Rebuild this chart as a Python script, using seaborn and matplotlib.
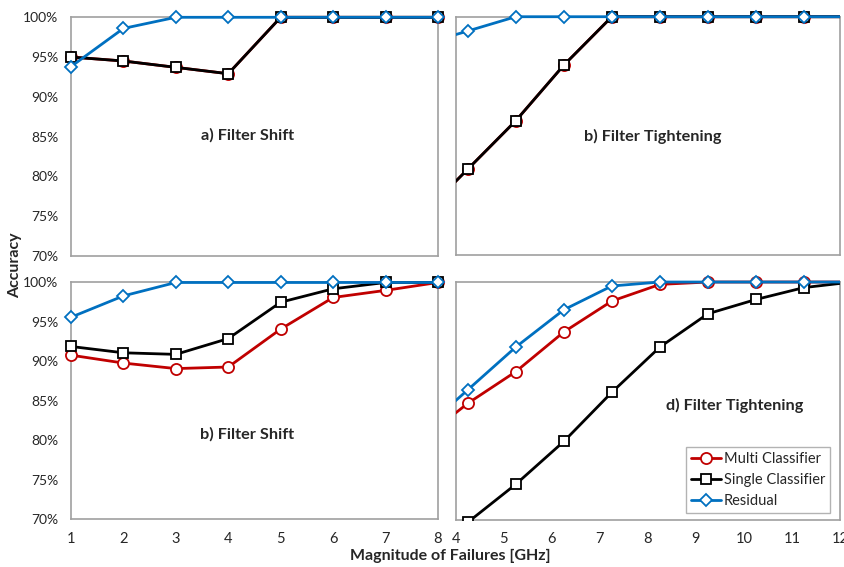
import numpy as np
import pandas as pd
import matplotlib
matplotlib.use("Agg")
import matplotlib.pyplot as plt
from matplotlib.patches import Rectangle
from matplotlib.ticker import PercentFormatter
import seaborn as sns

# data (accuracy in %)
shift_x = [1, 2, 3, 4, 5, 6, 7, 8]
tight_x = [3.25, 4.25, 5.25, 6.25, 7.25, 8.25, 9.25, 10.25, 11.25, 12.25]

a_multi = [95.0, 94.5, 93.7, 92.9, 100, 100, 100, 100]
a_single = [95.0, 94.5, 93.7, 92.9, 100, 100, 100, 100]
a_resid = [93.8, 98.6, 100, 100, 100, 100, 100, 100]

b_multi = [74.7, 80.8, 86.9, 93.9, 100, 100, 100, 100, 100, 100]
b_single = [74.7, 80.8, 86.9, 93.9, 100, 100, 100, 100, 100, 100]
b_resid = [96.4, 98.2, 100, 100, 100, 100, 100, 100, 100, 100]

c_multi = [90.8, 89.8, 89.1, 89.3, 94.1, 98.1, 99.0, 100]
c_single = [91.9, 91.1, 90.9, 92.9, 97.5, 99.2, 100, 100]
c_resid = [95.6, 98.3, 100, 100, 100, 100, 100, 100]

d_multi = [79.9, 84.7, 88.7, 93.7, 97.6, 99.7, 100, 100, 100, 100]
d_single = [65.0, 69.7, 74.5, 79.9, 86.1, 91.8, 96.0, 97.8, 99.3, 100]
d_resid = [81.0, 86.4, 91.8, 96.5, 99.5, 100, 100, 100, 100, 100]

series_names = ["Multi Classifier", "Single Classifier", "Residual"]
colors = ["#C00000", "#000000", "#0070C0"]
markers = ["o", "s", "D"]
msizes = [8, 7, 6]

sns.set_style("white")
plt.rcParams["font.family"] = ["Lato", "DejaVu Sans"]

fig = plt.figure(figsize=(8.45, 5.67), dpi=100)
rects = [
    [0.0840, 0.5490, 0.4343, 0.4205],   # a) top left
    [0.5393, 0.5503, 0.4548, 0.4202],   # b) top right
    [0.0840, 0.0838, 0.4343, 0.4180],   # c) bottom left
    [0.5393, 0.0829, 0.4548, 0.4197],   # d) bottom right
]
panels = [
    (shift_x, [a_multi, a_single, a_resid], "a) Filter Shift", (0.48, 0.506)),
    (tight_x, [b_multi, b_single, b_resid], "b) Filter Tightening", (0.513, 0.499)),
    (shift_x, [c_multi, c_single, c_resid], "b) Filter Shift", (0.48, 0.361)),
    (tight_x, [d_multi, d_single, d_resid], "d) Filter Tightening", (0.726, 0.483)),
]

axes = []
for i, (rect, (xs, ys, title, tpos)) in enumerate(zip(rects, panels)):
    ax = fig.add_axes(rect)
    axes.append(ax)
    for name, vals, c, m, ms in zip(series_names, ys, colors, markers, msizes):
        df = pd.DataFrame({"x": xs, "y": vals})
        sns.lineplot(data=df, x="x", y="y", ax=ax, color=c, marker=m,
                     markersize=ms, markerfacecolor="white",
                     markeredgecolor=c, markeredgewidth=1.3,
                     linewidth=2.0, legend=False)
    left = i in (0, 2)
    if left:
        ax.set_xlim(1, 8)
        ax.set_xticks(range(1, 9))
        for ln in ax.lines:
            ln.set_clip_on(False)
    else:
        ax.set_xlim(4, 12)
        ax.set_xticks(range(4, 13))
        for ln in ax.lines:
            ln.set_clip_path(Rectangle((0, 0), 1, 1.06, transform=ax.transAxes))
    ax.set_ylim(70, 100)
    ax.set_yticks(range(70, 101, 5))
    ax.yaxis.set_major_formatter(PercentFormatter(100, decimals=0))
    ax.set_xlabel("")
    ax.set_ylabel("")
    if not left:
        ax.set_yticklabels([])
    if i in (0, 1):
        ax.set_xticklabels([])
    ax.tick_params(axis="x", direction="in", length=4, width=1,
                   color="#A0A0A0", labelsize=10.5, pad=9)
    ax.tick_params(axis="y", direction="out", length=0, labelsize=10,
                   pad=9)
    for sp in ax.spines.values():
        sp.set_color("#A0A0A0")
        sp.set_linewidth(1.2)
        sp.set_zorder(0)
    ax.text(tpos[0], tpos[1], title, transform=ax.transAxes, ha="center",
            va="center", fontsize=11.7, fontweight="bold")

leg = axes[3].legend(handles=axes[3].lines[:3], labels=series_names,
                     loc="lower right", bbox_to_anchor=(0.974, 0.028),
                     borderaxespad=0, fontsize=10.5, frameon=True,
                     fancybox=False, handlelength=2.0, handletextpad=0.2,
                     borderpad=0.35, labelspacing=0.5)
leg.get_frame().set_edgecolor("#A0A0A0")
leg.get_frame().set_linewidth(1.0)

fig.text(0.018, 0.533, "Accuracy", rotation=90, ha="center", va="center",
         fontsize=11.5, fontweight="bold")
fig.text(0.533, 0.019, "Magnitude of Failures [GHz]", ha="center",
         va="center", fontsize=11.5, fontweight="bold")

fig.savefig("out.png", dpi=100)
